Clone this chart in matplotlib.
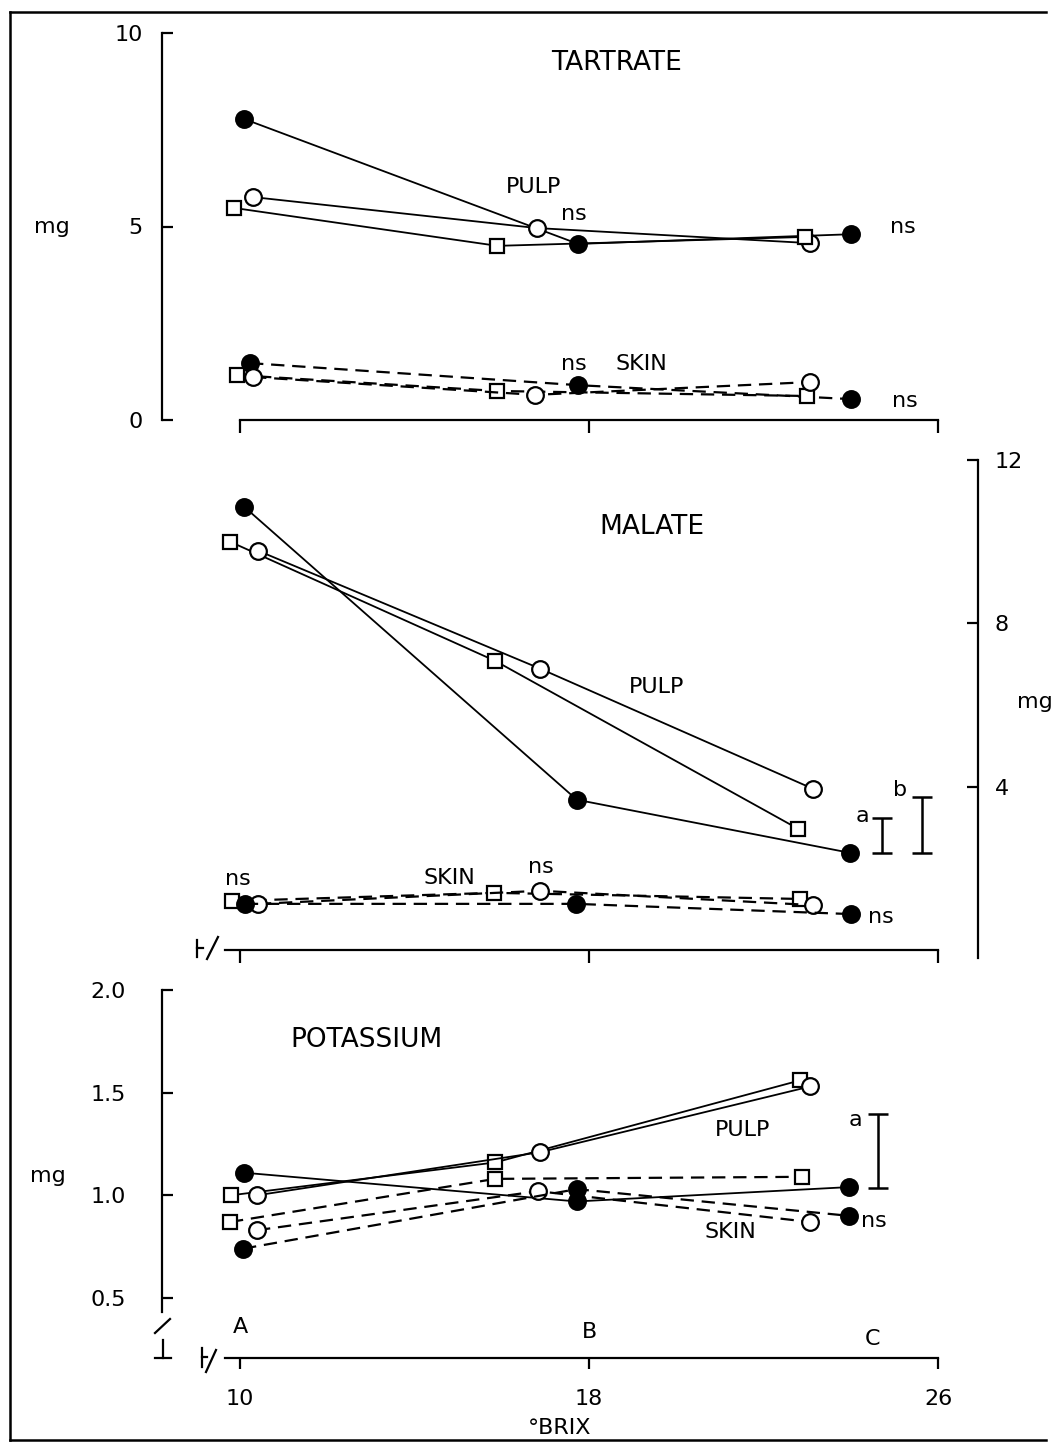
import matplotlib
matplotlib.use("Agg")
import matplotlib.pyplot as plt
from matplotlib.lines import Line2D
from matplotlib import font_manager

_names = {f.name for f in font_manager.fontManager.ttflist}
FAM = "Liberation Sans Narrow" if "Liberation Sans Narrow" in _names else "DejaVu Sans"
plt.rcParams["font.family"] = [FAM, "DejaVu Sans"]

# ---------------- data ----------------
# Tartrate (mg); x = degrees Brix for each treatment
tart_pulp_filled_x = [10.09, 17.75, 24.0]
tart_pulp_filled_y = [7.78, 4.55, 4.80]
tart_pulp_open_x = [10.3, 16.8, 23.07]
tart_pulp_open_y = [5.76, 4.96, 4.57]
tart_pulp_square_x = [9.86, 15.9, 22.95]
tart_pulp_square_y = [5.48, 4.50, 4.73]
tart_skin_filled_x = [10.23, 17.75, 24.0]
tart_skin_filled_y = [1.47, 0.90, 0.54]
tart_skin_square_x = [9.93, 15.9, 23.0]
tart_skin_square_y = [1.16, 0.75, 0.62]
tart_skin_open_x = [10.3, 16.76, 23.07]
tart_skin_open_y = [1.11, 0.65, 0.98]

# Malate (mg)
mal_pulp_filled_x = [10.09, 17.72, 23.98]
mal_pulp_filled_y = [10.86, 3.68, 2.38]
mal_pulp_square_x = [9.77, 15.85, 22.79]
mal_pulp_square_y = [10.0, 7.08, 2.97]
mal_pulp_open_x = [10.41, 16.88, 23.13]
mal_pulp_open_y = [9.78, 6.89, 3.95]
mal_skin_square_x = [9.82, 15.82, 22.84]
mal_skin_square_y = [1.20, 1.40, 1.25]
mal_skin_open_x = [10.41, 16.88, 23.13]
mal_skin_open_y = [1.13, 1.45, 1.10]
mal_skin_filled_x = [10.11, 17.70, 24.0]
mal_skin_filled_y = [1.13, 1.13, 0.88]
mal_lsd_x = [24.72, 25.63]
mal_lsd_low = [2.38, 2.38]
mal_lsd_high = [3.24, 3.75]
mal_lsd_labels = ["a", "b"]

# Potassium (mg)
pot_pulp_square_x = [9.79, 15.85, 22.84]
pot_pulp_square_y = [1.00, 1.16, 1.56]
pot_pulp_open_x = [10.39, 16.88, 23.07]
pot_pulp_open_y = [1.00, 1.21, 1.53]
pot_pulp_filled_x = [10.09, 17.72, 23.96]
pot_pulp_filled_y = [1.11, 0.97, 1.04]
pot_skin_square_x = [9.77, 15.85, 22.88]
pot_skin_square_y = [0.87, 1.08, 1.09]
pot_skin_open_x = [10.39, 16.83, 23.07]
pot_skin_open_y = [0.83, 1.02, 0.87]
pot_skin_filled_x = [10.07, 17.72, 23.96]
pot_skin_filled_y = [0.74, 1.03, 0.90]
pot_lsd_x = [24.62]
pot_lsd_low = [1.034]
pot_lsd_high = [1.395]

brix_ticks = [10, 18, 26]
tart_yticks = [0, 5, 10]
mal_yticks = [4, 8, 12]
pot_yticks = [0.5, 1.0, 1.5, 2.0]
pot_ytick_labels = ["0.5", "1.0", "1.5", "2.0"]
stage_labels = ["A", "B", "C"]

# ---------------- figure ----------------
W, H = 1051, 1448
fig = plt.figure(figsize=(W / 100, H / 100), dpi=100)
fig.patch.set_facecolor("white")


def axes_px(l, t, r, b):
    return fig.add_axes([l / W, 1 - b / H, (r - l) / W, (b - t) / H])


PX_PER_BRIX = (938 - 240) / 16.0
XL = 10 - (240 - 162) / PX_PER_BRIX

ax1 = axes_px(162, 33, 938, 420)
ax2 = axes_px(162, 460, 978, 950)
ax3 = axes_px(162, 990, 938, 1358)

for ax in (ax1, ax2, ax3):
    ax.set_facecolor("none")
    for s in ax.spines.values():
        s.set_visible(False)
        s.set_linewidth(1.6)
    ax.spines["bottom"].set_visible(True)

FS = 16
LW = 1.3
DASH = (0, (6, 3.5))


def series(ax, x, y, kind, skin):
    if kind == "filled":
        mk, ms, mfc = "o", 12, "black"
    elif kind == "open":
        mk, ms, mfc = "o", 12, "white"
    else:
        mk, ms, mfc = "s", 10, "white"
    ax.plot(x, y, linestyle=DASH if skin else "-", color="black",
            lw=1.6 if skin else LW, marker=mk, ms=ms, mfc=mfc, mec="black",
            mew=1.6, clip_on=False, zorder=3)


def txt(ax, x, y, s, size=FS, ha="center"):
    ax.text(x, y, s, fontsize=size, ha=ha, va="center", color="black")


# ---- Top: Tartrate ----
ax1.set_xlim(XL, 26)
ax1.set_ylim(0, 10)
ax1.spines["left"].set_visible(True)
ax1.spines["left"].set_bounds(0, 10)
ax1.spines["bottom"].set_bounds(10, 26)
ax1.set_xticks(brix_ticks)
ax1.set_xticklabels([])
ax1.tick_params(axis="x", direction="out", length=9, width=1.6)
ax1.set_yticks(tart_yticks)
ax1.set_yticklabels([str(v) for v in tart_yticks], fontsize=FS)
ax1.tick_params(axis="y", direction="in", length=8, width=1.6, pad=14)

series(ax1, tart_pulp_filled_x, tart_pulp_filled_y, "filled", False)
series(ax1, tart_pulp_open_x, tart_pulp_open_y, "open", False)
series(ax1, tart_pulp_square_x, tart_pulp_square_y, "square", False)
series(ax1, tart_skin_filled_x, tart_skin_filled_y, "filled", True)
series(ax1, tart_skin_square_x, tart_skin_square_y, "square", True)
series(ax1, tart_skin_open_x, tart_skin_open_y, "open", True)

txt(ax1, 18.64, 9.22, "TARTRATE", size=19)
txt(ax1, 16.72, 6.02, "PULP")
txt(ax1, 17.66, 5.32, "ns")
txt(ax1, 25.2, 4.99, "ns")
txt(ax1, 17.66, 1.45, "ns")
txt(ax1, 19.19, 1.45, "SKIN")
txt(ax1, 25.24, 0.49, "ns")

# ---- Middle: Malate ----
ax2.set_xlim(XL, 10 + (978 - 240) / PX_PER_BRIX)
ax2.set_ylim(0, 12)
ax2.spines["right"].set_visible(True)
ax2.spines["right"].set_bounds(-0.2, 12)
ax2.spines["bottom"].set_bounds(10 - 15 / PX_PER_BRIX, 26)
ax2.set_xticks(brix_ticks)
ax2.set_xticklabels([])
ax2.tick_params(axis="x", direction="out", length=9, width=1.6)
ax2.yaxis.tick_right()
ax2.set_yticks(mal_yticks)
ax2.set_yticklabels([str(v) for v in mal_yticks], fontsize=FS)
ax2.tick_params(axis="y", direction="in", length=8, width=1.6, pad=12)

series(ax2, mal_pulp_filled_x, mal_pulp_filled_y, "filled", False)
series(ax2, mal_pulp_square_x, mal_pulp_square_y, "square", False)
series(ax2, mal_pulp_open_x, mal_pulp_open_y, "open", False)
series(ax2, mal_skin_square_x, mal_skin_square_y, "square", True)
series(ax2, mal_skin_open_x, mal_skin_open_y, "open", True)
series(ax2, mal_skin_filled_x, mal_skin_filled_y, "filled", True)

for xv, lo, hi in zip(mal_lsd_x, mal_lsd_low, mal_lsd_high):
    ax2.errorbar([xv], [(lo + hi) / 2], yerr=[[(hi - lo) / 2]], fmt="none",
                 ecolor="black", elinewidth=1.8, capsize=7, capthick=1.8,
                 clip_on=False)
txt(ax2, mal_lsd_x[0] - 0.46, mal_lsd_high[0] + 0.05, mal_lsd_labels[0])
txt(ax2, mal_lsd_x[1] - 0.5, mal_lsd_high[1] + 0.17, mal_lsd_labels[1])

txt(ax2, 19.44, 10.37, "MALATE", size=19)
txt(ax2, 19.56, 6.45, "PULP")
txt(ax2, 9.95, 1.74, "ns")
txt(ax2, 14.81, 1.76, "SKIN")
txt(ax2, 16.9, 2.03, "ns")
txt(ax2, 24.69, 0.81, "ns")

# axis break mark on middle x axis
for xs, ys in (([197, 197], [940, 957]), ([197, 203], [948, 948]),
               ([207, 218], [959, 937])):
    ax2.add_artist(Line2D([(p - 162) / 816 for p in xs],
                          [(950 - p) / 490 for p in ys],
                          transform=ax2.transAxes, color="black", lw=1.6,
                          clip_on=False))

# ---- Bottom: Potassium ----
ax3.set_xlim(XL, 26)
ax3.set_ylim(2.0 - (1358 - 990) / 205.3, 2.0)
ax3.spines["left"].set_visible(True)
ax3.spines["left"].set_bounds(0.43, 2.0)
ax3.spines["bottom"].set_bounds(10 - 15 / PX_PER_BRIX, 26)
ax3.set_xticks(brix_ticks)
ax3.set_xticklabels([str(v) for v in brix_ticks], fontsize=FS)
ax3.tick_params(axis="x", direction="out", length=8, width=1.6, pad=14)
ax3.set_yticks(pot_yticks)
ax3.set_yticklabels(pot_ytick_labels, fontsize=FS)
ax3.tick_params(axis="y", direction="in", length=8, width=1.6, pad=26)

series(ax3, pot_pulp_square_x, pot_pulp_square_y, "square", False)
series(ax3, pot_pulp_open_x, pot_pulp_open_y, "open", False)
series(ax3, pot_pulp_filled_x, pot_pulp_filled_y, "filled", False)
series(ax3, pot_skin_square_x, pot_skin_square_y, "square", True)
series(ax3, pot_skin_open_x, pot_skin_open_y, "open", True)
series(ax3, pot_skin_filled_x, pot_skin_filled_y, "filled", True)

for xv, lo, hi in zip(pot_lsd_x, pot_lsd_low, pot_lsd_high):
    ax3.errorbar([xv], [(lo + hi) / 2], yerr=[[(hi - lo) / 2]], fmt="none",
                 ecolor="black", elinewidth=1.8, capsize=7, capthick=1.8,
                 clip_on=False)
txt(ax3, 24.1, 1.365, "a")

txt(ax3, 12.91, 1.755, "POTASSIUM", size=19)
txt(ax3, 21.53, 1.317, "PULP")
txt(ax3, 21.23, 0.82, "SKIN")
txt(ax3, 24.53, 0.873, "ns")
for xs, ys, lab in zip(brix_ticks[:2] + [24.49], [0.357, 0.333, 0.30], stage_labels):
    txt(ax3, xs, ys, lab)

# axis break marks on bottom axes
for xs, ys in (([202, 202], [1348, 1367]), ([202, 207], [1357, 1357]),
               ([206, 216], [1372, 1350]),
               ([155, 170], [1333, 1319]), ([163, 163], [1340, 1358]),
               ([155, 171], [1358, 1358])):
    ax3.add_artist(Line2D([(p - 162) / 776 for p in xs],
                          [(1358 - p) / 368 for p in ys],
                          transform=ax3.transAxes, color="black", lw=1.6,
                          clip_on=False))

# ---- figure-level labels ----
fig.text(52 / W, 1 - 227 / H, "mg", fontsize=FS, ha="center", va="center")
fig.text(1035 / W, 1 - 702 / H, "mg", fontsize=FS, ha="center", va="center")
fig.text(48 / W, 1 - 1176 / H, "mg", fontsize=FS, ha="center", va="center")
fig.text(560 / W, 1 - 1428 / H, "°BRIX", fontsize=FS, ha="center", va="center")

# outer frame (left, top, bottom)
for xs, ys in (([10, 10], [12, 1440]), ([10, 1046], [12, 12]),
               ([10, 1046], [1440, 1440])):
    fig.add_artist(Line2D([p / W for p in xs], [1 - p / H for p in ys],
                          transform=fig.transFigure, color="black", lw=1.8))

fig.savefig("out.png", dpi=100, facecolor="white")
